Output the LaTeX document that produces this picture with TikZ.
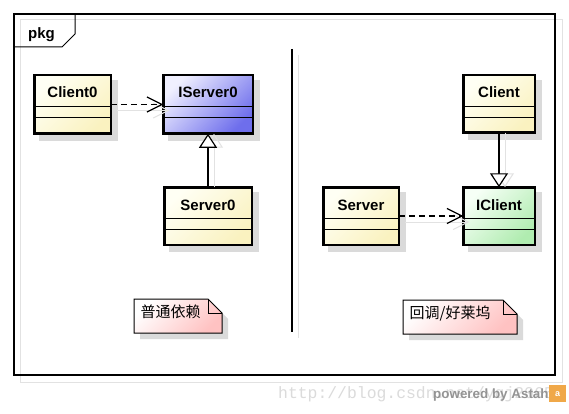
\documentclass[tikz,border=0pt]{standalone}
\usepackage{fontspec}
\setmainfont{Liberation Sans}
\setmonofont{Liberation Mono}
\newfontfamily\cjk{Noto Sans CJK SC}
\usetikzlibrary{arrows.meta}
\definecolor{yelA}{HTML}{FFFFF4}
\definecolor{yelB}{HTML}{FAF2C0}
\definecolor{bluA}{HTML}{F0F0FF}
\definecolor{bluB}{HTML}{6E6EEC}
\definecolor{grnA}{HTML}{F6FFF6}
\definecolor{grnB}{HTML}{B0ECB0}
\definecolor{pnkA}{HTML}{FFFFFF}
\definecolor{pnkB}{HTML}{FFC2C2}
\definecolor{shd}{HTML}{DADADA}
\definecolor{shdline}{HTML}{E2E2E2}
\definecolor{astahc}{HTML}{F0A848}
\tikzset{
  classbox/.style={draw=black, line width=2.5pt, inner sep=0pt, outer sep=0pt, rectangle},
  yellowfill/.style={top color=yelA, bottom color=yelB, shading angle=45},
  bluefill/.style={top color=bluA, bottom color=bluB, shading angle=45},
  greenfill/.style={top color=grnA, bottom color=grnB, shading angle=45},
  notefill/.style={top color=pnkA, bottom color=pnkB, shading angle=45},
  divider/.style={draw=black, line width=0.9pt},
  classname/.style={font=\fontsize{15}{18}\selectfont\bfseries, inner sep=0pt, anchor=base},
  notetext/.style={font=\fontsize{15}{18}\selectfont\cjk, inner sep=0pt, anchor=base west},
  dep/.style={line width=1.2pt, dash pattern=on 6pt off 4pt, -{Straight Barb[length=15pt,width=15pt]}},
  gen/.style={line width=1.2pt, -{Triangle[length=14pt,width=18pt,fill=white]}},
  depshadow/.style={draw=shdline, line width=1pt, -{Straight Barb[length=15pt,width=15pt]}},
  genshadow/.style={draw=shdline, line width=1pt, -{Triangle[length=14pt,width=18pt,open]}},
}
% #1 name, #2 x1, #3 y1, #4 x2, #5 y2 (outer edges), #6 text, #7 fill style
\newcommand\umlclass[7]{%
  \fill[shd] (#2+6,#3+6) rectangle (#4+6,#5+6);
  \node[classbox,#7,minimum width={#4-#2-2.5},minimum height={#5-#3-2.5}] (#1) at ({(#2+#4)/2},{(#3+#5)/2}) {};
  \draw[divider] (#2+1,#3+32) -- (#4-1,#3+32) (#2+1,#3+43) -- (#4-1,#3+43);
  \node[classname] (#1-name) at ({(#2+#4)/2},#3+24) {#6};
}
% #1 name, #2 x1, #3 y1, #4 x2, #5 y2, #6 text
\newcommand\umlnote[6]{%
  \fill[shd] (#2+6,#3+6) -- (#4-14+6,#3+6) -- (#4+6,#3+14+6) -- (#4+6,#5+6) -- (#2+6,#5+6) -- cycle;
  \draw[line width=1pt, notefill] (#2,#3) -- (#4-14,#3) -- (#4,#3+14) -- (#4,#5) -- (#2,#5) -- cycle;
  \draw[line width=1pt] (#4-14,#3) -- (#4-14,#3+14) -- (#4,#3+14);
  \node[notetext] (#1) at (#2+6.5,#3+18.5) {#6};
}
\begin{document}
\begin{tikzpicture}[x=1pt,y=-1pt]
\useasboundingbox (0,0) rectangle (569,414);
\fill[white] (0,0) rectangle (569,414);
% frame with shadow
\draw[shdline, line width=1pt] (20,20) rectangle (562,382);
\draw[line width=1.4pt] (14,14) rectangle (555,375);
\draw[line width=1pt] (14,47) -- (62,47) -- (75,34) -- (75,14);
\node[font=\fontsize{15}{18}\selectfont\bfseries, inner sep=0pt, anchor=base west] (pkg) at (28,39) {pkg};
% separator
\draw[shdline, line width=1pt] (298,55) -- (298,338);
\draw[line width=1.3pt] (292,49) -- (292,332);
% classes
\umlclass{Client0}{33}{74}{112}{135}{Client0}{yellowfill}
\umlclass{IServer0}{162}{74}{254}{135}{IServer0}{bluefill}
\umlclass{Server0}{163}{186}{253}{246}{Server0}{yellowfill}
\umlclass{Client}{462}{74}{536}{134}{Client}{yellowfill}
\umlclass{IClient}{462}{186}{536}{246}{IClient}{greenfill}
\umlclass{Server}{322}{186}{400}{246}{Server}{yellowfill}
% connector shadows
\draw[depshadow] ([shift={(6,6)}]Client0.east) -- ([shift={(6,6)}]IServer0.west);
\draw[depshadow] ([shift={(6,6)}]Server.east) -- ([shift={(6,6)}]IClient.west);
\draw[genshadow] ([shift={(6,0)}]Server0.north) -- ([shift={(6,0)}]IServer0.south);
\draw[genshadow] ([shift={(6,0)}]Client.south) -- ([shift={(6,0)}]IClient.north);
% connectors
\draw[dep] (Client0.east) -- (IServer0.west);
\draw[gen] (Server0.north) -- (IServer0.south);
\draw[dep] (Server.east) -- (IClient.west);
\draw[gen] (Client.south) -- (IClient.north);
% notes
\umlnote{note1}{134}{299}{222}{333}{普通依赖}
\umlnote{note2}{403}{300}{517}{334}{回调/好莱坞}
% watermark
\node[font=\fontsize{16.4}{18}\selectfont\ttfamily, text=black!14, inner sep=0pt, anchor=base west] (wm) at (278,398) {http://blog.csdn.net/yqj2065};
\node[font=\fontsize{13.4}{16}\selectfont\bfseries, text=black!42, inner sep=0pt, anchor=base west] (powered) at (433,398) {powered by Astah};
\node[fill=astahc, minimum size=17pt, inner sep=0pt, anchor=north west, font=\fontsize{9}{9}\selectfont\bfseries, text=white] (logo) at (549,385) {a};
\end{tikzpicture}
\end{document}
